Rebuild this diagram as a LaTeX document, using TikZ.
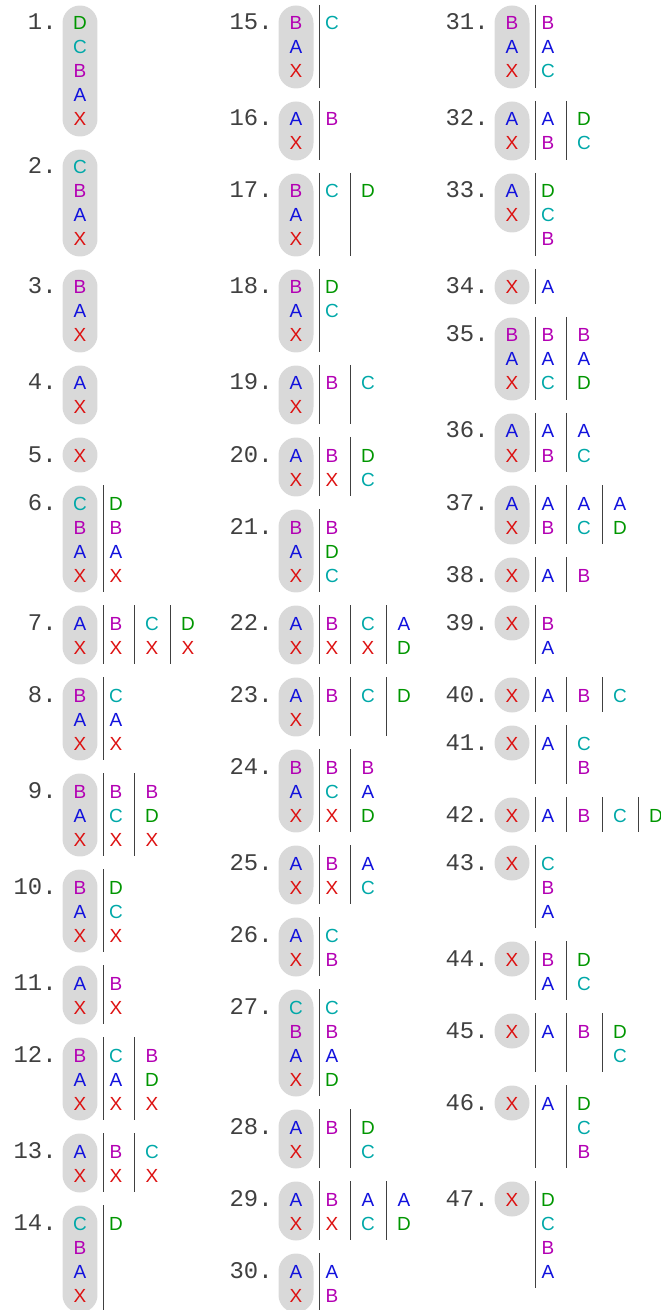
\documentclass[tikz,border=0pt]{standalone}
\usepackage{fontspec}
\setmainfont{Liberation Sans}
\newfontfamily\numfont{Liberation Mono}
\usetikzlibrary{positioning,calc}
\definecolor{cX}{RGB}{221,17,17}
\definecolor{cA}{RGB}{17,17,221}
\definecolor{cB}{RGB}{179,0,179}
\definecolor{cC}{RGB}{0,168,168}
\definecolor{cD}{RGB}{0,150,0}

\tikzset{
pill/.style={fill=black!15, rounded corners=0.349cm, minimum width=0.7cm, inner sep=0pt},
letter/.style={anchor=base, inner sep=0pt, font=\fontsize{10.8}{12}\selectfont},
num/.style={anchor=base east, inner sep=0pt, text=black!75, font=\numfont\fontsize{13.6}{15}\selectfont},
sep/.style={draw=black!75, line width=0.55pt}
}

% #1 number, #2 pill x, #3 first row, #4 rows, #5 pill rows, #6 pill letters, #7 columns
\newcommand{\entry}[7]{%
\pgfmathsetmacro{\ymid}{23+24*#3+12*(#5-1)}
\pgfmathsetmacro{\pillh}{0.7+0.48*(#5-1)}
\pgfmathsetmacro{\ytop}{5+24*#3}
\pgfmathsetmacro{\ybot}{40+24*(#3+#4-1)}
\node[pill, minimum height=\pillh cm] (p#1) at (#2,\ymid) {};
\node[num] (n#1) at (#2-23,30+24*#3) {#1.};
\foreach \ltr [count=\row from 0] in {#6}
  \node[letter, text=c\ltr] (e#1-0-\row) at (#2,30+24*#3+24*\row) {\ltr};
\if\relax\detokenize{#7}\relax\else
\foreach \colx [count=\kk] in {#7} {
  \pgfmathsetmacro{\xsep}{\kk==1 ? #2+23.5 : #2+36*\kk-18}
  \coordinate (s#1-\kk-t) at (\xsep,\ytop);
  \coordinate (s#1-\kk-b) at (\xsep,\ybot);
  \draw[sep] (s#1-\kk-t) -- (s#1-\kk-b);
  \foreach \ltr [count=\row from 0] in \colx
    \node[letter, text=c\ltr] (e#1-\kk-\row) at (#2+36*\kk,30+24*#3+24*\row) {\ltr};
}
\fi
}

\begin{document}
\begin{tikzpicture}[x=0.02cm,y=-0.02cm]
\useasboundingbox (0,0) rectangle (661,1310);

% ================= LEFT COLUMN =================
\entry{1}{80}{0}{5}{5}{D,C,B,A,X}{}
\entry{2}{80}{6}{4}{4}{C,B,A,X}{}
\entry{3}{80}{11}{3}{3}{B,A,X}{}
\entry{4}{80}{15}{2}{2}{A,X}{}
\entry{5}{80}{18}{1}{1}{X}{}
\entry{6}{80}{20}{4}{4}{C,B,A,X}{{D,B,A,X}}
\entry{7}{80}{25}{2}{2}{A,X}{{B,X},{C,X},{D,X}}
\entry{8}{80}{28}{3}{3}{B,A,X}{{C,A,X}}
\entry{9}{80}{32}{3}{3}{B,A,X}{{B,C,X},{B,D,X}}
\entry{10}{80}{36}{3}{3}{B,A,X}{{D,C,X}}
\entry{11}{80}{40}{2}{2}{A,X}{{B,X}}
\entry{12}{80}{43}{3}{3}{B,A,X}{{C,A,X},{B,D,X}}
\entry{13}{80}{47}{2}{2}{A,X}{{B,X},{C,X}}
\entry{14}{80}{50}{4}{4}{C,B,A,X}{{D}}

% ================= MIDDLE COLUMN =================
\entry{15}{296}{0}{3}{3}{B,A,X}{{C}}
\entry{16}{296}{4}{2}{2}{A,X}{{B}}
\entry{17}{296}{7}{3}{3}{B,A,X}{{C},{D}}
\entry{18}{296}{11}{3}{3}{B,A,X}{{D,C}}
\entry{19}{296}{15}{2}{2}{A,X}{{B},{C}}
\entry{20}{296}{18}{2}{2}{A,X}{{B,X},{D,C}}
\entry{21}{296}{21}{3}{3}{B,A,X}{{B,D,C}}
\entry{22}{296}{25}{2}{2}{A,X}{{B,X},{C,X},{A,D}}
\entry{23}{296}{28}{2}{2}{A,X}{{B},{C},{D}}
\entry{24}{296}{31}{3}{3}{B,A,X}{{B,C,X},{B,A,D}}
\entry{25}{296}{35}{2}{2}{A,X}{{B,X},{A,C}}
\entry{26}{296}{38}{2}{2}{A,X}{{C,B}}
\entry{27}{296}{41}{4}{4}{C,B,A,X}{{C,B,A,D}}
\entry{28}{296}{46}{2}{2}{A,X}{{B},{D,C}}
\entry{29}{296}{49}{2}{2}{A,X}{{B,X},{A,C},{A,D}}
\entry{30}{296}{52}{2}{2}{A,X}{{A,B}}

% ================= RIGHT COLUMN =================
\entry{31}{512}{0}{3}{3}{B,A,X}{{B,A,C}}
\entry{32}{512}{4}{2}{2}{A,X}{{A,B},{D,C}}
\entry{33}{512}{7}{3}{2}{A,X}{{D,C,B}}
\entry{34}{512}{11}{1}{1}{X}{{A}}
\entry{35}{512}{13}{3}{3}{B,A,X}{{B,A,C},{B,A,D}}
\entry{36}{512}{17}{2}{2}{A,X}{{A,B},{A,C}}
\entry{37}{512}{20}{2}{2}{A,X}{{A,B},{A,C},{A,D}}
\entry{38}{512}{23}{1}{1}{X}{{A},{B}}
\entry{39}{512}{25}{2}{1}{X}{{B,A}}
\entry{40}{512}{28}{1}{1}{X}{{A},{B},{C}}
\entry{41}{512}{30}{2}{1}{X}{{A},{C,B}}
\entry{42}{512}{33}{1}{1}{X}{{A},{B},{C},{D}}
\entry{43}{512}{35}{3}{1}{X}{{C,B,A}}
\entry{44}{512}{39}{2}{1}{X}{{B,A},{D,C}}
\entry{45}{512}{42}{2}{1}{X}{{A},{B},{D,C}}
\entry{46}{512}{45}{3}{1}{X}{{A},{D,C,B}}
\entry{47}{512}{49}{4}{1}{X}{{D,C,B,A}}

\end{tikzpicture}
\end{document}
